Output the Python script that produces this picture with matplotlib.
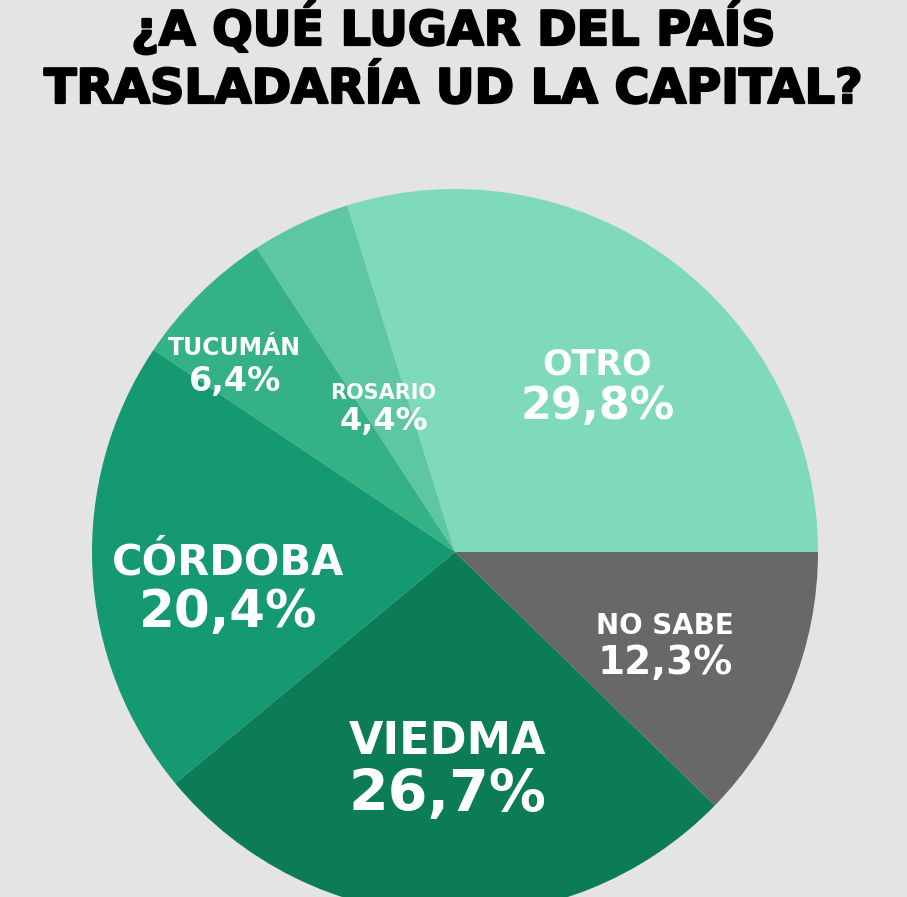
import numpy as np
import matplotlib.pyplot as plt
import matplotlib.patheffects as pe

# survey answers, counter-clockwise from 3 o'clock
categories = ['OTRO', 'ROSARIO', 'TUCUMÁN', 'CÓRDOBA', 'VIEDMA', 'NO SABE']
shares = [29.8, 4.4, 6.4, 20.4, 26.7, 12.3]
pct_labels = ['29,8%', '4,4%', '6,4%', '20,4%', '26,7%', '12,3%']

title_lines = ['¿A QUÉ LUGAR DEL PAÍS', 'TRASLADARÍA UD LA CAPITAL?']

colors = ['#7fdabb', '#5dc7a2', '#35b186', '#149970', '#0b7c55', '#686868']
# label placement relative to each wedge (fraction of radius, angle shift)
label_r = [0.61, 0.45, 0.80, 0.631, 0.584, 0.63]
label_dtheta = [-3.6, 0.8, 4.7, 5.1, 0.4, -1.0]
name_size = [25, 15, 17, 30, 32, 20]
pct_size = [32, 23, 24, 37, 41, 28]
gap = [41, 27, 32, 49, 53, 35]

W, H = 907, 897
fig = plt.figure(figsize=(W / 100, H / 100), dpi=100)
fig.patch.set_facecolor('#e4e4e4')
ax = fig.add_axes([0, 0, 1, 1])

cx, cy, R = 455, H - 552, 363
wedges, _ = ax.pie(shares, colors=colors, startangle=0, counterclock=True,
                   center=(cx, cy), radius=R,
                   wedgeprops=dict(linewidth=0, antialiased=True))
ax.set_xlim(0, W)
ax.set_ylim(0, H)
ax.set_aspect('auto')
ax.axis('off')

font = 'DejaVu Sans'
cap = 0.729 * 100 / 72  # cap height in px per pt

for i, w in enumerate(wedges):
    ang = np.deg2rad((w.theta1 + w.theta2) / 2 + label_dtheta[i])
    x = cx + label_r[i] * R * np.cos(ang)
    y = cy + label_r[i] * R * np.sin(ang)
    ax.text(x, y + gap[i] / 2 - name_size[i] * cap / 2, categories[i],
            color='white', fontsize=name_size[i], fontweight='bold',
            family=font, ha='center', va='baseline')
    ax.text(x, y - gap[i] / 2 - pct_size[i] * cap / 2, pct_labels[i],
            color='white', fontsize=pct_size[i], fontweight='bold',
            family=font, ha='center', va='baseline')

# heavier title: bold plus a thin stroke of the same colour
for line, base in zip(title_lines, [45, 103]):
    ax.text(W / 2, H - base, line, color='black', fontsize=34.3,
            fontweight='bold', family=font, ha='center', va='baseline',
            path_effects=[pe.withStroke(linewidth=1.6, foreground='black')])

fig.savefig('out.png', dpi=100, facecolor=fig.get_facecolor())
